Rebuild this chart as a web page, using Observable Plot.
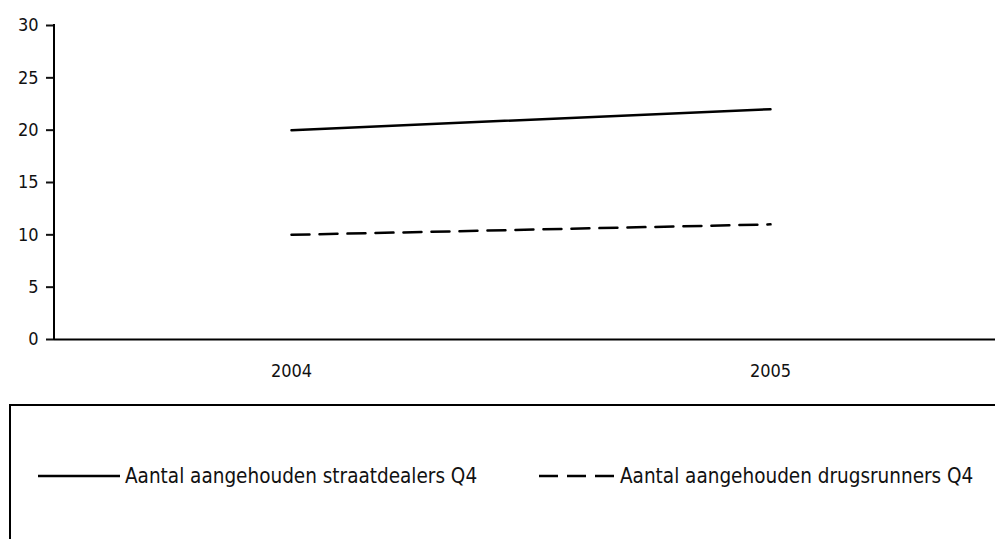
<!DOCTYPE html>
<html>
<head>
<meta charset="utf-8">
<script src="https://cdn.jsdelivr.net/npm/d3@7"></script>
<script src="https://cdn.jsdelivr.net/npm/@observablehq/plot@0.6"></script>
<style>
  html, body { margin: 0; padding: 0; background: #fff; }
  #wrap { position: relative; width: 995px; height: 539px; overflow: hidden; font-family: "DejaVu Sans Condensed", "DejaVu Sans", sans-serif; }
  #chart { position: absolute; left: 0; top: 0; }
  #legend { position: absolute; left: 9px; top: 404px; width: 1100px; height: 300px; border: 2px solid #000; box-sizing: border-box; }
  .item { position: absolute; top: 58px; height: 24px; display: flex; align-items: center; font-size: 20.5px; color: #111; white-space: nowrap; }
  .item svg { display: block; margin-right: 5px; }
</style>
</head>
<body>
<div id="wrap">
  <div id="chart"></div>
  <div id="legend"></div>
</div>
<script>
const years = [2004, 2005];
const straatdealers = [20, 22];
const drugsrunners = [10, 11];
const yTicks = [0, 5, 10, 15, 20, 25, 30];
const seriesNames = ["Aantal aangehouden straatdealers Q4", "Aantal aangehouden drugsrunners Q4"];

const rows1 = years.map((y, i) => ({year: y, value: straatdealers[i]}));
const rows2 = years.map((y, i) => ({year: y, value: drugsrunners[i]}));

const yAxisLine = (index, scales, values, dims) => {
  const l = d3.create("svg:line")
    .attr("x1", dims.marginLeft).attr("x2", dims.marginLeft)
    .attr("y1", scales.y(30) - 1).attr("y2", scales.y(0) + 1)
    .attr("stroke", "#000").attr("stroke-width", 2);
  return l.node();
};

const plot = Plot.plot({
  width: 995,
  height: 400,
  marginLeft: 54,
  marginRight: 0,
  marginTop: 25,
  marginBottom: 61,
  style: { fontFamily: '"DejaVu Sans Condensed", "DejaVu Sans", sans-serif', fontSize: "18px", color: "#111", background: "#fff" },
  x: { type: "point", domain: years, range: [291, 770], padding: 0, align: 0.5 },
  y: { domain: [0, 30] },
  marks: [
    Plot.axisY({ ticks: yTicks, tickSize: 8, tickPadding: 8, tickFormat: d => String(d), label: null, fontSize: 18, strokeWidth: 2 }),
    Plot.axisX({ tickSize: 0, tickPadding: 25, tickFormat: d => String(d), label: null, fontSize: 18 }),
    Plot.ruleY([0], { stroke: "#000", strokeWidth: 2 }),
    yAxisLine,
    Plot.line(rows1, { x: "year", y: "value", stroke: "#000", strokeWidth: 2.5 }),
    Plot.line(rows2, { x: "year", y: "value", stroke: "#000", strokeWidth: 2.5, strokeDasharray: "18,10" })
  ]
});
document.getElementById("chart").appendChild(plot);

// legend
const legend = document.getElementById("legend");
const items = [
  { name: seriesNames[0], left: 27, w: 82, dash: null },
  { name: seriesNames[1], left: 528, w: 76, dash: "19,9" }
];
items.forEach(it => {
  const div = document.createElement("div");
  div.className = "item";
  div.style.left = it.left + "px";
  const svg = d3.create("svg").attr("width", it.w).attr("height", 24);
  svg.append("line").attr("x1", 0).attr("x2", it.w).attr("y1", 12).attr("y2", 12)
    .attr("stroke", "#000").attr("stroke-width", 2.5)
    .attr("stroke-dasharray", it.dash);
  div.appendChild(svg.node());
  const span = document.createElement("span");
  span.textContent = it.name;
  div.appendChild(span);
  legend.appendChild(div);
});
</script>
</body>
</html>
